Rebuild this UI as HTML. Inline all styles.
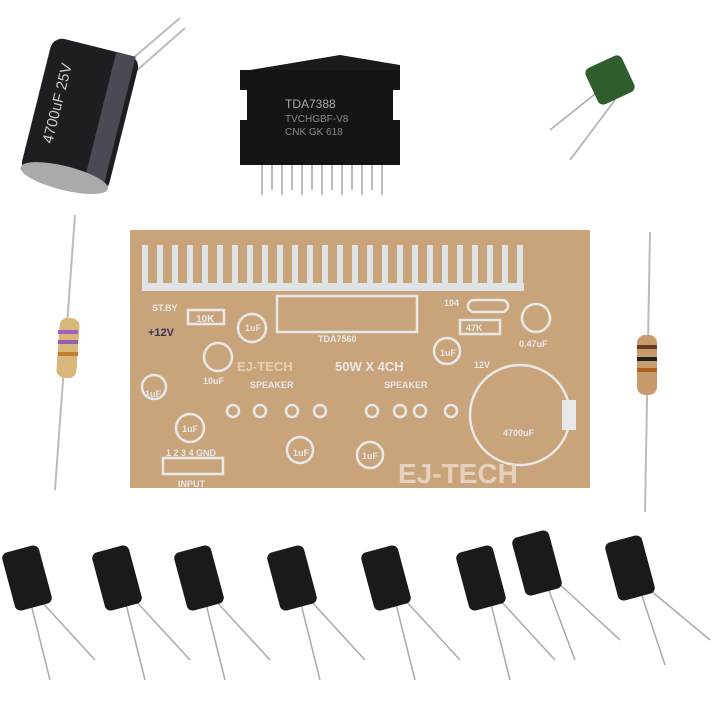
<!DOCTYPE html>
<html><head><style>body{margin:0;background:#fff}svg{display:block}</style></head><body>
<svg width="720" height="720" viewBox="0 0 720 720" xmlns="http://www.w3.org/2000/svg" font-family="Liberation Sans, sans-serif">
<rect width="720" height="720" fill="#fff"/>
<!-- big cap -->
<line x1="125" y1="65" x2="180" y2="18" stroke="#bbb" stroke-width="2"/>
<line x1="135" y1="72" x2="185" y2="28" stroke="#bbb" stroke-width="2"/>
<g transform="rotate(14 80 115)">
<rect x="35" y="45" width="90" height="140" rx="12" fill="#1e1e22"/>
<rect x="100" y="45" width="20" height="140" fill="#4a4a55"/>
<ellipse cx="80" cy="180" rx="45" ry="12" fill="#aaa"/>
<text x="60" y="150" fill="#ccc" font-size="15" transform="rotate(-90 60 150)">4700uF 25V</text>
</g>
<!-- IC -->
<g>
<polygon points="250,70 340,55 400,65 400,165 240,165" fill="#1a1a1a"/>
<rect x="240" y="70" width="160" height="95" fill="#151515"/>
<rect x="235" y="90" width="12" height="30" fill="#fff"/>
<rect x="393" y="90" width="12" height="30" fill="#fff"/>
<text x="285" y="108" fill="#aaa" font-size="12">TDA7388</text>
<text x="285" y="122" fill="#888" font-size="10">TVCHGBF-V8</text>
<text x="285" y="135" fill="#888" font-size="10">CNK GK 618</text>
<g stroke="#bbb" stroke-width="2">
<line x1="262" y1="165" x2="262" y2="195"/><line x1="272" y1="165" x2="272" y2="190"/><line x1="282" y1="165" x2="282" y2="195"/><line x1="292" y1="165" x2="292" y2="190"/><line x1="302" y1="165" x2="302" y2="195"/><line x1="312" y1="165" x2="312" y2="190"/><line x1="322" y1="165" x2="322" y2="195"/><line x1="332" y1="165" x2="332" y2="190"/><line x1="342" y1="165" x2="342" y2="195"/><line x1="352" y1="165" x2="352" y2="190"/><line x1="362" y1="165" x2="362" y2="195"/><line x1="372" y1="165" x2="372" y2="190"/><line x1="382" y1="165" x2="382" y2="195"/>
</g>
</g>
<!-- green cap -->
<line x1="600" y1="90" x2="550" y2="130" stroke="#aaa" stroke-width="1.5"/>
<line x1="615" y1="100" x2="570" y2="160" stroke="#aaa" stroke-width="1.5"/>
<rect x="590" y="60" width="40" height="40" rx="6" fill="#2f5e2c" transform="rotate(-25 610 80)"/>
<!-- resistors -->
<line x1="75" y1="215" x2="55" y2="490" stroke="#bbb" stroke-width="2"/>
<rect x="58" y="318" width="20" height="60" rx="8" fill="#d9b67a" transform="rotate(4 68 348)"/>
<rect x="58" y="330" width="20" height="4" fill="#a060c0"/><rect x="58" y="340" width="20" height="4" fill="#9060b0"/><rect x="58" y="352" width="20" height="4" fill="#c08030"/>
<line x1="650" y1="232" x2="645" y2="512" stroke="#bbb" stroke-width="2"/>
<rect x="637" y="335" width="20" height="60" rx="8" fill="#c79b6b"/>
<rect x="637" y="345" width="20" height="4" fill="#6a3a20"/><rect x="637" y="357" width="20" height="4" fill="#222"/><rect x="637" y="368" width="20" height="4" fill="#b06020"/>
<!-- PCB -->
<rect x="130" y="230" width="460" height="258" fill="#c9a47a"/>
<g fill="#dfe3e6">
<rect x="142" y="283" width="382" height="8"/>
<rect x="142" y="245" width="6" height="40"/><rect x="157" y="245" width="6" height="40"/><rect x="172" y="245" width="6" height="40"/><rect x="187" y="245" width="6" height="40"/><rect x="202" y="245" width="6" height="40"/><rect x="217" y="245" width="6" height="40"/><rect x="232" y="245" width="6" height="40"/><rect x="247" y="245" width="6" height="40"/><rect x="262" y="245" width="6" height="40"/><rect x="277" y="245" width="6" height="40"/><rect x="292" y="245" width="6" height="40"/><rect x="307" y="245" width="6" height="40"/><rect x="322" y="245" width="6" height="40"/><rect x="337" y="245" width="6" height="40"/><rect x="352" y="245" width="6" height="40"/><rect x="367" y="245" width="6" height="40"/><rect x="382" y="245" width="6" height="40"/><rect x="397" y="245" width="6" height="40"/><rect x="412" y="245" width="6" height="40"/><rect x="427" y="245" width="6" height="40"/><rect x="442" y="245" width="6" height="40"/><rect x="457" y="245" width="6" height="40"/><rect x="472" y="245" width="6" height="40"/><rect x="487" y="245" width="6" height="40"/><rect x="502" y="245" width="6" height="40"/><rect x="517" y="245" width="6" height="40"/>
</g>
<g fill="none" stroke="#e6e8ea" stroke-width="2.5">
<rect x="277" y="296" width="140" height="36"/>
<rect x="188" y="310" width="36" height="14"/>
<rect x="460" y="320" width="40" height="14"/>
<rect x="468" y="300" width="40" height="12" rx="6"/>
<circle cx="252" cy="328" r="14"/><circle cx="218" cy="357" r="14"/><circle cx="154" cy="387" r="12"/>
<circle cx="190" cy="428" r="14"/><circle cx="300" cy="450" r="13"/><circle cx="370" cy="455" r="13"/>
<circle cx="447" cy="351" r="13"/><circle cx="536" cy="318" r="14"/>
<circle cx="520" cy="415" r="50"/>
<rect x="163" y="458" width="60" height="16"/>
<circle cx="233" cy="411" r="6"/><circle cx="260" cy="411" r="6"/><circle cx="292" cy="411" r="6"/><circle cx="320" cy="411" r="6"/>
<circle cx="372" cy="411" r="6"/><circle cx="400" cy="411" r="6"/><circle cx="420" cy="411" r="6"/><circle cx="451" cy="411" r="6"/>
</g>
<rect x="562" y="400" width="14" height="30" fill="#e6e8ea"/>
<g fill="#e6e8ea" font-weight="bold">
<text x="152" y="311" font-size="9">ST.BY</text>
<text x="196" y="322" font-size="10">10K</text>
<text x="245" y="331" font-size="9">1uF</text>
<text x="203" y="384" font-size="9">10uF</text>
<text x="145" y="397" font-size="9">1uF</text>
<text x="182" y="432" font-size="9">1uF</text>
<text x="166" y="456" font-size="9">1 2 3 4 GND</text>
<text x="178" y="487" font-size="9">INPUT</text>
<text x="318" y="342" font-size="9">TDA7560</text>
<text x="237" y="371" font-size="13" fill="#e9cfae">EJ-TECH</text>
<text x="335" y="371" font-size="13">50W X 4CH</text>
<text x="250" y="388" font-size="9">SPEAKER</text>
<text x="384" y="388" font-size="9">SPEAKER</text>
<text x="444" y="306" font-size="9">104</text>
<text x="466" y="331" font-size="9">47K</text>
<text x="519" y="347" font-size="9">0.47uF</text>
<text x="440" y="356" font-size="9">1uF</text>
<text x="474" y="368" font-size="9">12V</text>
<text x="503" y="436" font-size="9">4700uF</text>
<text x="293" y="456" font-size="9">1uF</text>
<text x="362" y="459" font-size="9">1uF</text>
<text x="398" y="483" font-size="28" fill="#eadacb" opacity="0.85">EJ-TECH</text>
</g>
<text x="148" y="336" font-size="11" fill="#3a3060" font-weight="bold">+12V</text>
<g stroke="#aaa" stroke-width="1.5">
<line x1="30" y1="600" x2="50" y2="680"/><line x1="40" y1="600" x2="95" y2="660"/>
<line x1="125" y1="600" x2="145" y2="680"/><line x1="135" y1="600" x2="190" y2="660"/>
<line x1="205" y1="600" x2="225" y2="680"/><line x1="215" y1="600" x2="270" y2="660"/>
<line x1="300" y1="600" x2="320" y2="680"/><line x1="310" y1="600" x2="365" y2="660"/>
<line x1="395" y1="600" x2="415" y2="680"/><line x1="405" y1="600" x2="460" y2="660"/>
<line x1="490" y1="600" x2="510" y2="680"/><line x1="500" y1="600" x2="555" y2="660"/>
<line x1="545" y1="580" x2="575" y2="660"/><line x1="555" y1="580" x2="620" y2="640"/>
<line x1="640" y1="590" x2="665" y2="665"/><line x1="650" y1="590" x2="710" y2="640"/>
</g>
<g fill="#1a1a1a">
<rect x="8" y="548" width="38" height="60" rx="6" transform="rotate(-15 27 578)"/>
<rect x="98" y="548" width="38" height="60" rx="6" transform="rotate(-15 117 578)"/>
<rect x="180" y="548" width="38" height="60" rx="6" transform="rotate(-15 199 578)"/>
<rect x="273" y="548" width="38" height="60" rx="6" transform="rotate(-15 292 578)"/>
<rect x="367" y="548" width="38" height="60" rx="6" transform="rotate(-15 386 578)"/>
<rect x="462" y="548" width="38" height="60" rx="6" transform="rotate(-15 481 578)"/>
<rect x="518" y="533" width="38" height="60" rx="6" transform="rotate(-15 537 563)"/>
<rect x="611" y="538" width="38" height="60" rx="6" transform="rotate(-15 630 568)"/>
</g>
</svg>
</body></html>
